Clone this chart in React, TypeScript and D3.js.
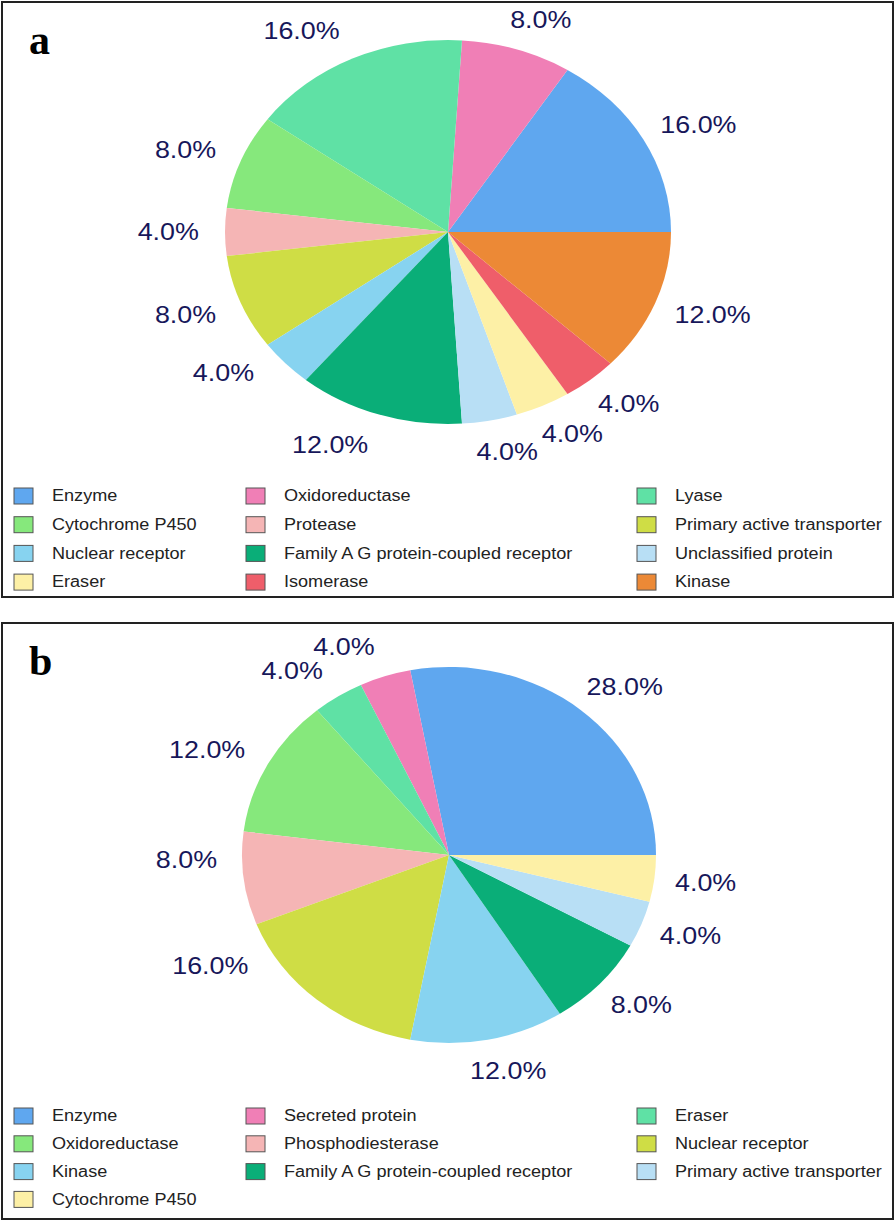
import * as d3 from "d3";

// panel a
const catsA = [
  "Enzyme", "Oxidoreductase", "Lyase",
  "Cytochrome P450", "Protease", "Primary active transporter",
  "Nuclear receptor", "Family A G protein-coupled receptor", "Unclassified protein",
  "Eraser", "Isomerase", "Kinase",
];
const valsA = [16, 8, 16, 8, 4, 8, 4, 12, 4, 4, 4, 12];

// panel b
const catsB = [
  "Enzyme", "Secreted protein", "Eraser",
  "Oxidoreductase", "Phosphodiesterase", "Nuclear receptor",
  "Kinase", "Family A G protein-coupled receptor", "Primary active transporter",
  "Cytochrome P450",
];
const valsB = [28, 4, 4, 12, 8, 16, 12, 8, 4, 4];

// label angle tweaks (degrees, counter-clockwise) where the figure moved labels
const nudgeA = [0, 0, 0, 0, 0, 0, -4, 0, 0, 0, 0, 0];
const nudgeB = [0, 0, 0, 0, -6, -20, 0, 0, 0, 0];

const palette = [
  "#5fa7ef", "#f07fb6", "#5fe1a5", "#86e87c", "#f5b5b5", "#cfdd45",
  "#87d3f0", "#0aae78", "#b8dff5", "#fdf0a6", "#ef5e6a", "#ec8936",
];

const W = 896;
const H = 1221;
const labelColor = "#17175a";
const fs = 24;     // percent label font size
const sxText = 1.12; // horizontal stretch seen in the figure

function textWidth(s: string) {
  // rough Arial widths
  let w = 0;
  for (const ch of s) w += ch === "." ? 0.278 : ch === "%" ? 0.889 : 0.556;
  return w * fs * sxText;
}

function Panel({ cats, vals, nudge, top, bottom, letter, cx, cy, rx, ry, legendY, rowGap }) {
  const pie = d3.pie<number>().sort(null).value(d => d)
    .startAngle(Math.PI / 2).endAngle(Math.PI / 2 - 2 * Math.PI);
  const arcs = pie(vals);
  const arc = d3.arc<d3.PieArcDatum<number>>().innerRadius(0).outerRadius(ry);
  const k = rx / ry;
  const total = d3.sum(vals);
  const colX = [14, 246, 637];

  return (
    <g>
      <rect x={2} y={top} width={W - 5} height={bottom - top} fill="white" stroke="#222" strokeWidth={2} />
      <text x={29} y={top + 52} fontFamily="'Liberation Serif', serif" fontWeight="bold" fontSize={42}>{letter}</text>
      <g transform={`translate(${cx},${cy}) scale(${k},1)`}>
        {arcs.map((a, i) => (
          <path key={i} d={arc(a) as string} fill={palette[i]} />
        ))}
      </g>
      {arcs.map((a, i) => {
        const m = (a.startAngle + a.endAngle) / 2 - (nudge[i] * Math.PI) / 180;
        const s = Math.sin(m), c = Math.cos(m);
        const r = ry + 19;
        const txt = `${((vals[i] / total) * 100).toFixed(1)}%`;
        const hw = textWidth(txt) / 2 / k;
        const hh = fs * 0.5;
        const f = s < 0 ? 1 : Math.sqrt(Math.abs(s));
        const extra = s < 0 ? -4 : 0;
        const x = cx + (r * s + hw * Math.sign(s) * f) * k + extra;
        const y = cy - r * c - c * hh;
        return (
          <text key={i} transform={`translate(${x},${y}) scale(${sxText},1)`} textAnchor="middle"
            dominantBaseline="central" fontFamily="'Liberation Sans', Arial, sans-serif" fontSize={fs} fill={labelColor}>
            {txt}
          </text>
        );
      })}
      {cats.map((name, i) => {
        const col = i % 3, row = Math.floor(i / 3);
        const y = legendY + row * rowGap;
        return (
          <g key={name}>
            <rect x={colX[col]} y={y - 8} width={19} height={16} fill={palette[i]} stroke="#555" strokeWidth={1} />
            <text transform={`translate(${colX[col] + 38},${y}) scale(1.13,1)`} dominantBaseline="central"
              fontFamily="'Liberation Sans', Arial, sans-serif" fontSize={16} fill="#222">{name}</text>
          </g>
        );
      })}
    </g>
  );
}

export default function App() {
  return (
    <svg width={W} height={H} viewBox={`0 0 ${W} ${H}`} style={{ display: "block", position: "absolute", left: 0, top: 0 }}>
      <rect width={W} height={H} fill="white" />
      <Panel cats={catsA} vals={valsA} nudge={nudgeA} top={2} bottom={597} letter="a" cx={448} cy={232} rx={223} ry={192} legendY={496} rowGap={28.7} />
      <Panel cats={catsB} vals={valsB} nudge={nudgeB} top={623} bottom={1219} letter="b" cx={449} cy={855} rx={207} ry={188} legendY={1116} rowGap={27.8} />
    </svg>
  );
}
